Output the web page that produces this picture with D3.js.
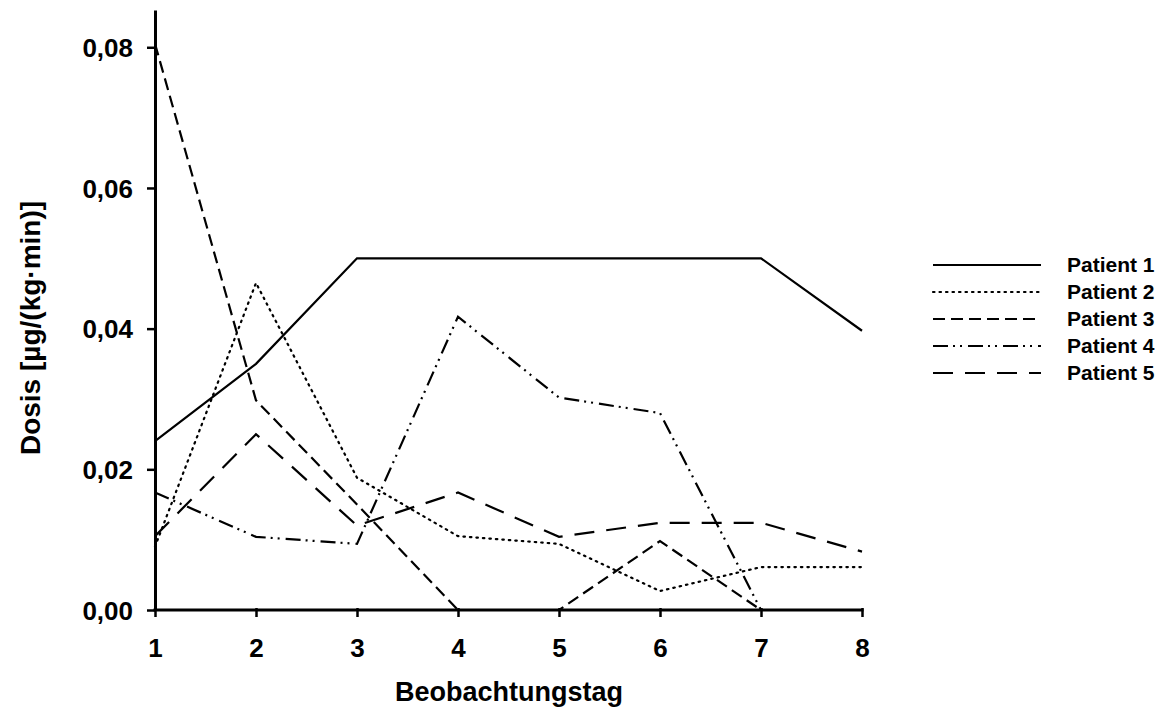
<!DOCTYPE html>
<html><head><meta charset="utf-8">
<script src="https://cdn.jsdelivr.net/npm/d3@7"></script>
<style>body{margin:0;background:#fff}svg{display:block}text{font-family:"Liberation Sans",Arial,sans-serif;font-weight:bold;fill:#000}</style>
</head><body><svg id="c" width="1161" height="711"></svg>
<script>
const days = [1,2,3,4,5,6,7,8];
const patient1 = [0.024,0.035,0.050,0.050,0.050,0.050,0.050,0.0397];
const patient2 = [0.009,0.0465,0.0188,0.0105,0.0094,0.0027,0.0061,0.0061];
const patient3 = [0.0805,0.0298,0.015,0,0,0.0098,0];
const patient4 = [0.0167,0.0104,0.0094,0.0417,0.0302,0.028,0];
const patient5 = [0.0105,0.025,0.012,0.0167,0.0104,0.0124,0.0124,0.0083];
const seriesNames = ["Patient 1","Patient 2","Patient 3","Patient 4","Patient 5"];
const yTicks = [0,0.02,0.04,0.06,0.08];
const xLabel = "Beobachtungstag";
const yLabel = "Dosis [µg/(kg·min)]";

const dashes = ["", "1.5,5", "12,6", "15,5,2,5,2,6", "20,12"];
const caps = ["butt","round","butt","butt","butt"];
const series = [patient1,patient2,patient3,patient4,patient5];

const svg = d3.select("#c");
const x = d3.scaleLinear().domain([1,8]).range([155,862]);
const y = d3.scaleLinear().domain([0,0.0853]).range([610,10]);

const fmt = d => d.toFixed(2).replace(".", ",");
const ff = "'Liberation Sans',Arial,sans-serif";

// axes
const xa = svg.append("g").attr("transform","translate(0,610)")
  .call(d3.axisBottom(x).tickValues(days).tickFormat(d3.format("d")).tickSize(7).tickSizeOuter(0));
xa.select(".domain").attr("stroke-width",3).attr("d","M153.5,0H863.5");
xa.selectAll(".tick line").attr("stroke-width",2.5).attr("y1",-2);
xa.selectAll(".tick text").attr("dy",0).attr("y",47)
  .style("font-size","26px").style("font-family",ff).style("font-weight","bold");

const ya = svg.append("g").attr("transform","translate(155,0)")
  .call(d3.axisLeft(y).tickValues(yTicks).tickFormat(fmt).tickSize(8).tickSizeOuter(0));
ya.select(".domain").attr("stroke-width",3);
ya.selectAll(".tick line").attr("stroke-width",2.5);
ya.selectAll(".tick text").attr("x",-22).attr("dy","0.35em")
  .style("font-size","26px").style("font-family",ff).style("font-weight","bold");

// lines
const line = d3.line().x((d,i)=>x(days[i])).y(d=>y(d));
series.forEach((s,k)=>{
  svg.append("path").datum(s).attr("d",line).attr("fill","none")
    .attr("stroke","#000").attr("stroke-width",2.2)
    .attr("stroke-dasharray",dashes[k]).attr("stroke-linecap",caps[k])
    .attr("stroke-linejoin","miter");
});

// legend
seriesNames.forEach((n,k)=>{
  const yy = 265 + k*27;
  svg.append("line").attr("x1",933).attr("x2",1041).attr("y1",yy).attr("y2",yy)
    .attr("stroke","#000").attr("stroke-width",2.2)
    .attr("stroke-dasharray",dashes[k]).attr("stroke-linecap",caps[k]);
  svg.append("text").attr("x",1067).attr("y",yy).attr("dy","0.35em").style("font-size","21px").text(n);
});

// axis titles
svg.append("text").attr("x",509).attr("y",701).attr("text-anchor","middle").style("font-size","27px").text(xLabel);
svg.append("text").attr("transform","translate(40,328) rotate(-90)").attr("text-anchor","middle").style("font-size","28px").text(yLabel);
</script></body></html>
